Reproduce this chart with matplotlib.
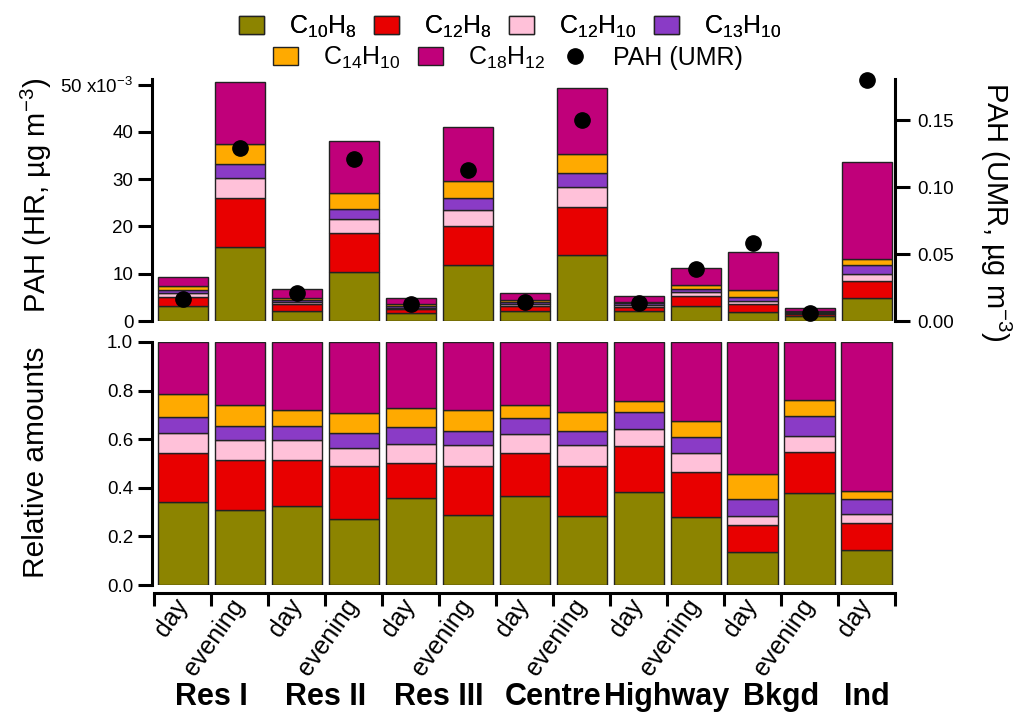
import numpy as np
import matplotlib
matplotlib.use('Agg')
import matplotlib.pyplot as plt
from matplotlib.patches import Patch
from matplotlib.lines import Line2D
import matplotlib.transforms as mtransforms

# PAH concentrations from HR analysis, units of 1e-3 ug m-3
c10h8 = [3.21, 15.64, 2.20, 10.29, 1.75, 11.77, 2.15, 13.98, 2.02, 3.11, 1.97, 1.06, 4.84]
c12h8 = [1.90, 10.37, 1.31, 8.31, 0.71, 8.36, 1.05, 10.23, 1.02, 2.08, 1.64, 0.47, 3.70]
c12h10 = [0.78, 4.20, 0.55, 2.90, 0.38, 3.44, 0.47, 4.15, 0.36, 0.88, 0.52, 0.19, 1.34]
c13h10 = [0.62, 2.99, 0.40, 2.29, 0.35, 2.42, 0.38, 2.91, 0.38, 0.73, 1.00, 0.23, 2.05]
c14h10 = [0.89, 4.30, 0.45, 3.20, 0.38, 3.57, 0.32, 4.00, 0.24, 0.75, 1.51, 0.18, 1.11]
c18h12 = [2.00, 13.11, 1.89, 11.13, 1.33, 11.44, 1.52, 14.13, 1.28, 3.64, 7.86, 0.67, 20.56]
# PAH from UMR, ug m-3
pah_umr = [0.0164, 0.129, 0.0209, 0.121, 0.0124, 0.113, 0.0144, 0.150, 0.0134, 0.0388, 0.058, 0.0062, 0.180]

times = ['day', 'evening'] * 6 + ['day']
sites = ['Res I', 'Res II', 'Res III', 'Centre', 'Highway', 'Bkgd', 'Ind']

species = [c10h8, c12h8, c12h10, c13h10, c14h10, c18h12]
names = ['C$_{10}$H$_8$', 'C$_{12}$H$_8$', 'C$_{12}$H$_{10}$', 'C$_{13}$H$_{10}$',
         'C$_{14}$H$_{10}$', 'C$_{18}$H$_{12}$']
colors = ['#8c8400', '#e80000', '#ffc1d9', '#8a3bc6', '#ffaa00', '#c0007a']


def main():
    plt.rcParams['font.family'] = ['Liberation Sans', 'DejaVu Sans']
    plt.rcParams['mathtext.fontset'] = 'custom'
    plt.rcParams['mathtext.rm'] = 'Liberation Sans'
    plt.rcParams['mathtext.it'] = 'Liberation Sans:italic'

    fig = plt.figure(figsize=(10.22, 7.12), dpi=100)
    ax1 = fig.add_axes([152/1022, 1-321/712, 743/1022, 242/712])
    ax2 = fig.add_axes([152/1022, 1-585/712, 743/1022, 243/712])

    x = np.arange(len(times))
    data = np.array(species)
    total = data.sum(axis=0)
    frac = data / total

    bottom1 = np.zeros(len(x))
    bottom2 = np.zeros(len(x))
    for vals, fr, col in zip(data, frac, colors):
        ax1.bar(x, vals, 0.88, bottom=bottom1, color=col, edgecolor='#222222', linewidth=1)
        ax2.bar(x, fr, 0.88, bottom=bottom2, color=col, edgecolor='#222222', linewidth=1)
        bottom1 += vals
        bottom2 += fr

    lw = 2.2
    tsize = 13.5
    # top panel
    ax1.set_xlim(-0.54, 12.49)
    ax1.set_ylim(0, 51.2)
    ax1.set_yticks([0, 10, 20, 30, 40, 50])
    ax1.set_yticklabels(['0', '10', '20', '30', '40', '50 x10$^{-3}$'])
    for s in ['top', 'right', 'bottom']:
        ax1.spines[s].set_visible(False)
    ax1.spines['left'].set_linewidth(lw)
    ax1.set_xticks([])
    ax1.tick_params(axis='y', direction='out', length=10, width=lw, labelsize=tsize)

    ax1r = ax1.twinx()
    ax1r.set_ylim(0, 0.1806)
    ax1r.plot(x, pah_umr, 'o', color='black', markersize=11, clip_on=False)
    ax1r.set_yticks([0, 0.05, 0.10, 0.15])
    ax1r.set_yticklabels(['0.00', '0.05', '0.10', '0.15'])
    for s in ['top', 'left', 'bottom']:
        ax1r.spines[s].set_visible(False)
    ax1r.spines['right'].set_linewidth(lw)
    ax1r.tick_params(axis='y', direction='out', length=11, width=lw, labelsize=tsize, pad=5)

    # bottom panel
    ax2.set_xlim(-0.54, 12.49)
    ax2.set_ylim(0, 1.0)
    ax2.set_yticks([0, 0.2, 0.4, 0.6, 0.8, 1.0])
    ax2.set_yticklabels(['0.0', '0.2', '0.4', '0.6', '0.8', '1.0'])
    for s in ['top', 'right']:
        ax2.spines[s].set_visible(False)
    ax2.spines['left'].set_linewidth(lw)
    ax2.spines['bottom'].set_linewidth(lw)
    ax2.spines['bottom'].set_position(('outward', 6))
    ax2.spines['bottom'].set_bounds(-0.5, 12.5)
    ax2.tick_params(axis='y', direction='out', length=10, width=lw, labelsize=tsize)
    ax2.set_xticks(np.arange(-0.5, 13, 1.0), minor=True)
    ax2.set_xticks(x)
    ax2.set_xticklabels(times, rotation=55, ha='right', va='center',
                        rotation_mode='anchor', fontsize=18)
    ax2.tick_params(axis='x', which='major', length=0, pad=6)
    ax2.tick_params(axis='x', which='minor', direction='out', length=9, width=lw)

    # axis titles
    fig.text(36/1022, 1-195/712, 'PAH (HR, µg m$^{-3}$)', rotation=90,
             ha='center', va='center', fontsize=21)
    fig.text(36/1022, 1-462/712, 'Relative amounts', rotation=90,
             ha='center', va='center', fontsize=21.5)
    fig.text(996/1022, 1-212/712, 'PAH (UMR, µg m$^{-3}$)', rotation=270,
             ha='center', va='center', fontsize=21)

    # site names under the day/evening labels
    trans = mtransforms.blended_transform_factory(ax2.transData, fig.transFigure)
    site_x = [0.5, 2.5, 4.5, 6.5, 8.5, 10.5, 12]
    for sx, name in zip(site_x, sites):
        ax2.text(sx, 1-697/712, name, transform=trans, ha='center', va='center',
                 fontsize=22, fontweight='bold')

    # legend, two rows
    h = [Patch(facecolor=c, edgecolor='#222222', linewidth=1) for c in colors]
    dot = Line2D([], [], marker='o', color='black', linestyle='none', markersize=11)
    opts = dict(loc='center', frameon=False, fontsize=18, handlelength=1.0,
                handleheight=0.7, columnspacing=0.7, handletextpad=1.0, borderpad=0)
    leg1 = fig.legend(h[:4], names[:4], ncol=4, bbox_to_anchor=(510/1022, 1-27/712), **opts)
    fig.legend(h[4:] + [dot], names[4:] + ['PAH (UMR)'], ncol=3,
               bbox_to_anchor=(508/1022, 1-58/712), **opts)
    fig.add_artist(leg1)

    fig.savefig('out.png', dpi=100)


if __name__ == "__main__":
    main()
